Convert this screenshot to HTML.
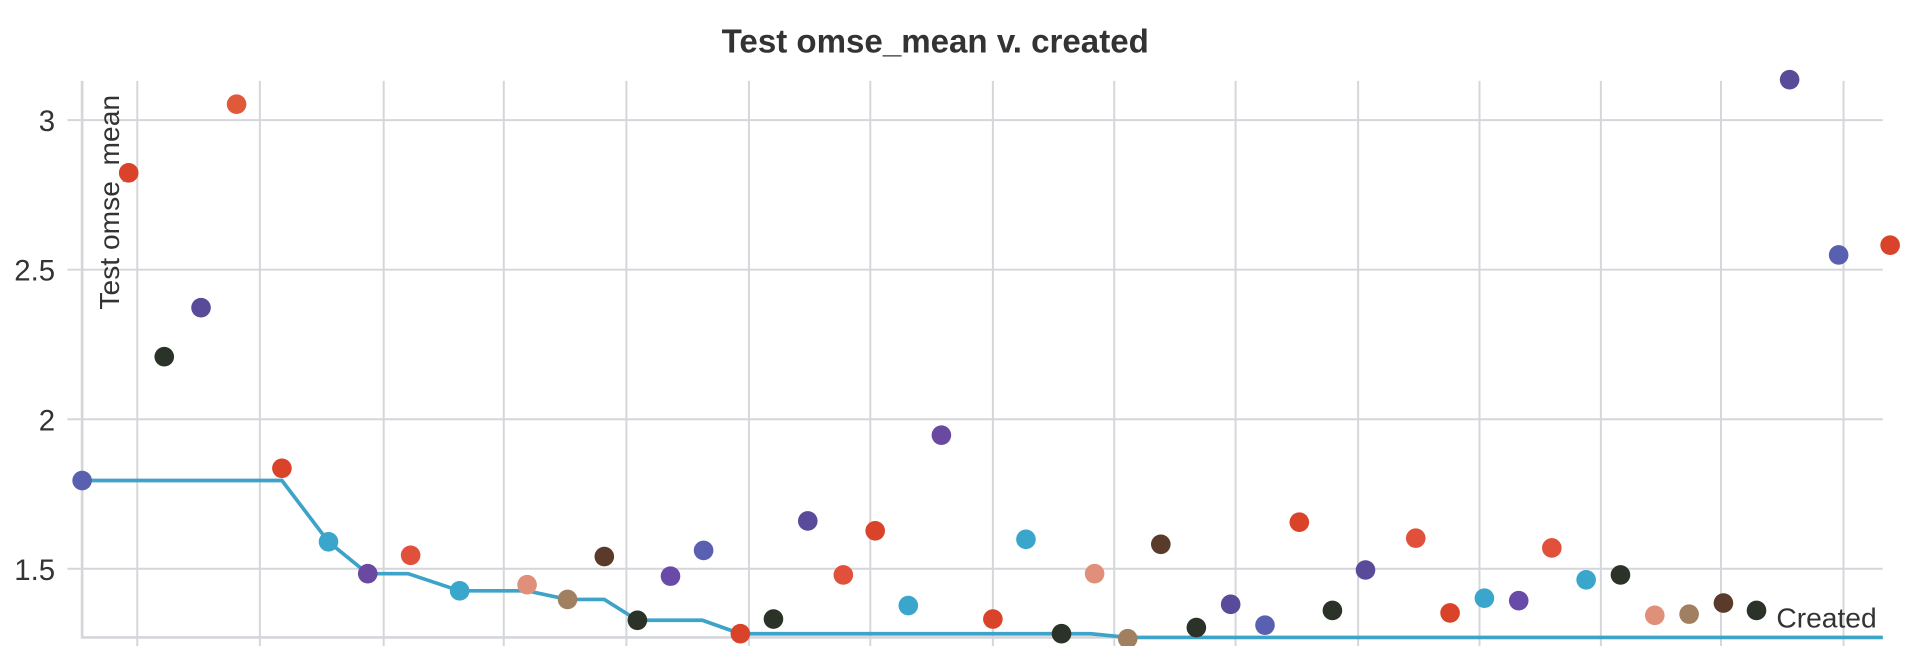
<!DOCTYPE html>
<html><head><meta charset="utf-8"><style>
html,body{margin:0;padding:0;background:#fff;}
svg{display:block;}
text{font-family:"Liberation Sans",sans-serif;fill:#333;}
</style></head><body>
<svg width="1922" height="646" viewBox="0 0 1568 527" preserveAspectRatio="none">
<text x="763" y="43" text-anchor="middle" font-size="27" font-weight="bold">Test omse_mean v. created</text>
<g stroke="#d4d6da" stroke-width="1.6">
<line x1="55" y1="98" x2="1536" y2="98"/>
<line x1="55" y1="220" x2="1536" y2="220"/>
<line x1="55" y1="342" x2="1536" y2="342"/>
<line x1="55" y1="464" x2="1536" y2="464"/>
<line x1="112" y1="66" x2="112" y2="527"/><line x1="212" y1="66" x2="212" y2="527"/>
<line x1="313" y1="66" x2="313" y2="527"/><line x1="411" y1="66" x2="411" y2="527"/>
<line x1="511" y1="66" x2="511" y2="527"/><line x1="611" y1="66" x2="611" y2="527"/>
<line x1="710" y1="66" x2="710" y2="527"/><line x1="810" y1="66" x2="810" y2="527"/>
<line x1="909" y1="66" x2="909" y2="527"/><line x1="1008" y1="66" x2="1008" y2="527"/>
<line x1="1108" y1="66" x2="1108" y2="527"/><line x1="1207" y1="66" x2="1207" y2="527"/>
<line x1="1306" y1="66" x2="1306" y2="527"/><line x1="1404" y1="66" x2="1404" y2="527"/>
<line x1="1504" y1="66" x2="1504" y2="527"/>
<line x1="67" y1="66" x2="67" y2="521" stroke-width="2.2"/>
<line x1="67" y1="520" x2="1536" y2="520" stroke-width="2.2"/>
</g>
<g font-size="24" text-anchor="end">
<text x="45" y="107">3</text><text x="45" y="229">2.5</text>
<text x="45" y="351">2</text><text x="45" y="473">1.5</text>
</g>
<text transform="translate(97,165) rotate(-90)" text-anchor="middle" font-size="23">Test omse_mean</text>
<polyline fill="none" stroke="#3ea3c8" stroke-width="3" points="67,392 230,392 268,442 300,468 333,468 375,482 430,482 463,489 493,489 520,506 573,506 604,517 890,517 920,520 1536,520"/>
<g>
<circle cx="67" cy="392" r="8" fill="#5a60b0"/><circle cx="105" cy="141" r="8" fill="#d9432a"/>
<circle cx="134" cy="291" r="8" fill="#2b3328"/><circle cx="164" cy="251" r="8" fill="#5a4a9a"/>
<circle cx="193" cy="85" r="8" fill="#e05a3a"/><circle cx="230" cy="382" r="8" fill="#d9432a"/>
<circle cx="268" cy="442" r="8" fill="#3aa6cc"/><circle cx="300" cy="468" r="8" fill="#6a4aa0"/>
<circle cx="335" cy="453" r="8" fill="#e0503a"/><circle cx="375" cy="482" r="8" fill="#3aa6cc"/>
<circle cx="430" cy="477" r="8" fill="#e0907a"/><circle cx="463" cy="489" r="8" fill="#a08060"/>
<circle cx="493" cy="454" r="8" fill="#5a3a2a"/><circle cx="520" cy="506" r="8" fill="#2b3328"/>
<circle cx="547" cy="470" r="8" fill="#6a4aa8"/><circle cx="574" cy="449" r="8" fill="#5a60b0"/>
<circle cx="604" cy="517" r="8" fill="#d9432a"/><circle cx="631" cy="505" r="8" fill="#2b3328"/>
<circle cx="659" cy="425" r="8" fill="#5a4a9a"/><circle cx="688" cy="469" r="8" fill="#e0503a"/>
<circle cx="714" cy="433" r="8" fill="#d9432a"/><circle cx="741" cy="494" r="8" fill="#3aa6cc"/>
<circle cx="768" cy="355" r="8" fill="#6a4aa0"/><circle cx="810" cy="505" r="8" fill="#d9432a"/>
<circle cx="837" cy="440" r="8" fill="#3aa6cc"/><circle cx="866" cy="517" r="8" fill="#2b3328"/>
<circle cx="893" cy="468" r="8" fill="#e0907a"/><circle cx="920" cy="521" r="8" fill="#a08060"/>
<circle cx="947" cy="444" r="8" fill="#5a3a2a"/><circle cx="976" cy="512" r="8" fill="#2b3328"/>
<circle cx="1004" cy="493" r="8" fill="#5a4a9a"/><circle cx="1032" cy="510" r="8" fill="#5a60b0"/>
<circle cx="1060" cy="426" r="8" fill="#d9432a"/><circle cx="1087" cy="498" r="8" fill="#2b3328"/>
<circle cx="1114" cy="465" r="8" fill="#5a4a9a"/><circle cx="1155" cy="439" r="8" fill="#e0503a"/>
<circle cx="1183" cy="500" r="8" fill="#d9432a"/><circle cx="1211" cy="488" r="8" fill="#3aa6cc"/>
<circle cx="1239" cy="490" r="8" fill="#6a4aa8"/><circle cx="1266" cy="447" r="8" fill="#e0503a"/>
<circle cx="1294" cy="473" r="8" fill="#3aa6cc"/><circle cx="1322" cy="469" r="8" fill="#2b3328"/>
<circle cx="1350" cy="502" r="8" fill="#e0907a"/><circle cx="1378" cy="501" r="8" fill="#a08060"/>
<circle cx="1406" cy="492" r="8" fill="#5a3a2a"/><circle cx="1433" cy="498" r="8" fill="#2b3328"/>
<circle cx="1460" cy="65" r="8" fill="#5a4a9a"/><circle cx="1500" cy="208" r="8" fill="#5a60b0"/>
<circle cx="1542" cy="200" r="8" fill="#d9432a"/>
</g>
<text x="1531" y="512" text-anchor="end" font-size="23">Created</text>
</svg>
</body></html>
